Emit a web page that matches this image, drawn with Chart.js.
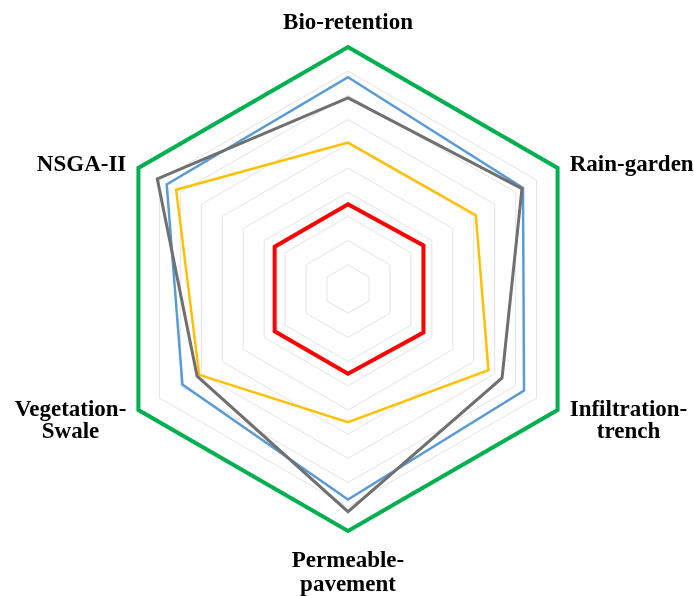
<!DOCTYPE html>
<html>
<head>
<meta charset="utf-8">
<script src="https://cdn.jsdelivr.net/npm/chart.js@4/dist/chart.umd.min.js"></script>
<style>
  html, body { margin: 0; padding: 0; background: #fff; overflow: hidden; }
  #wrap { width: 694px; height: 596px; position: relative; }
</style>
</head>
<body>
<div id="wrap"><canvas id="radarChart"></canvas></div>
<script>
// axis categories (clockwise from top)
const axisLabels = [
  ['Bio-retention'],
  ['Rain-garden'],
  ['Infiltration-', 'trench'],
  ['Permeable-', 'pavement'],
  ['Vegetation-', 'Swale'],
  ['NSGA-II']
];

// series values (scale 0-10)
const outerValues  = [10, 10, 10, 10, 10, 10];
const blueValues   = [8.75, 8.35, 8.4, 8.7, 7.9, 8.65];
const grayValues   = [7.9, 8.3, 7.35, 9.2, 7.2, 9.1];
const yellowValues = [6.05, 6.1, 6.7, 5.5, 7.1, 8.2];
const redValues    = [3.5, 3.6, 3.6, 3.5, 3.5, 3.5];

const ringTicks = [0, 1, 2, 3, 4, 5, 6, 7, 8, 9, 10];

// draws the axis names outside the outer ring
const axisLabelPlugin = {
  id: 'axisLabelPlugin',
  afterDraw(chart) {
    const scale = chart.scales.r;
    const ctx = chart.ctx;
    const lh = 22;
    ctx.save();
    ctx.font = 'bold 23px "Liberation Serif", "Times New Roman", serif';
    ctx.fillStyle = '#000';
    ctx.textBaseline = 'middle';
    ctx.textAlign = 'center';
    axisLabels.forEach((lines, i) => {
      const p = scale.getPointPosition(i, scale.drawingArea + 14);
      const w = Math.max(...lines.map(t => ctx.measureText(t).width));
      const h = lines.length * lh;
      const dx = p.x - scale.xCenter;
      let cx, top, step = lh;
      if (Math.abs(dx) < 1) {
        cx = p.x;
        if (p.y < scale.yCenter) {
          top = p.y - h + 1;
        } else {
          step = 24;
          top = p.y + 5;
        }
      } else {
        cx = dx > 0 ? p.x + w / 2 : p.x - w / 2;
        top = p.y - h / 2 + 4;
      }
      lines.forEach((t, j) => {
        ctx.fillText(t, cx, top + lh / 2 + j * step);
      });
    });
    ctx.restore();
  }
};

const ctx = document.getElementById('radarChart').getContext('2d');
new Chart(ctx, {
  type: 'radar',
  data: {
    labels: axisLabels,
    datasets: [
      { label: 'Series 1', data: outerValues,  borderColor: '#00B050', borderWidth: 4 },
      { label: 'Series 2', data: grayValues,   borderColor: '#707070', borderWidth: 3 },
      { label: 'Series 3', data: blueValues,   borderColor: '#5B9BD5', borderWidth: 2.5 },
      { label: 'Series 4', data: yellowValues, borderColor: '#FFC000', borderWidth: 2.5 },
      { label: 'Series 5', data: redValues,    borderColor: '#FF0000', borderWidth: 4 }
    ]
  },
  options: {
    responsive: true,
    maintainAspectRatio: false,
    animation: false,
    layout: { padding: { top: 47, bottom: 65, left: 2, right: 0 } },
    elements: {
      line: { fill: false, tension: 0 },
      point: { radius: 0, hoverRadius: 0 }
    },
    plugins: {
      legend: { display: false },
      tooltip: { enabled: false }
    },
    scales: {
      r: {
        min: ringTicks[0],
        max: ringTicks[ringTicks.length - 1],
        ticks: { display: false, stepSize: 1 },
        grid: { color: '#E3E3E3', lineWidth: 1 },
        angleLines: { display: false },
        pointLabels: { display: false }
      }
    }
  },
  plugins: [axisLabelPlugin]
});
</script>
</body>
</html>
